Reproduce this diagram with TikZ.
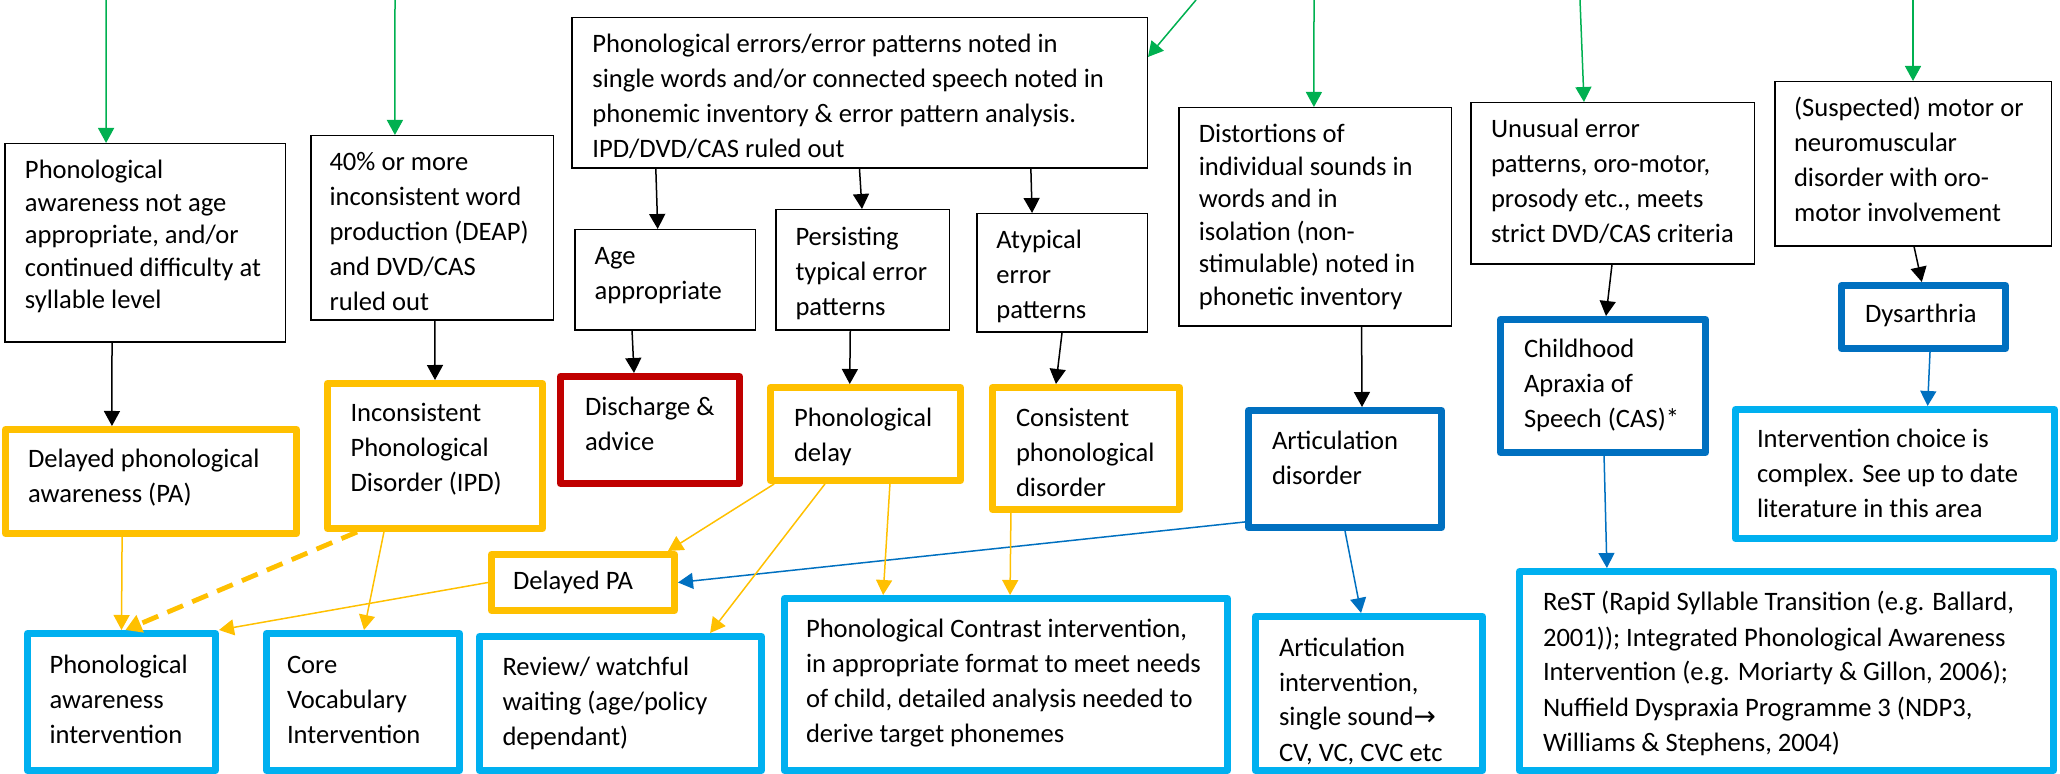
\documentclass[tikz,border=0pt]{standalone}
\usepackage{fontspec}
\setmainfont{Carlito}
\newfontfamily\arrowfont{DejaVu Sans}
\usetikzlibrary{arrows.meta,calc}
\definecolor{grn}{HTML}{00B050}
\definecolor{yel}{HTML}{FFC000}
\definecolor{rdd}{HTML}{C00000}
\definecolor{dblu}{HTML}{0070C0}
\definecolor{cyn}{HTML}{00B0F0}
\newcommand\tightlines{\fontsize{13.3pt}{16.25pt}\selectfont}
\def\lwthinbox{0.75pt}
\def\lwyelbox{3.5pt}
\def\lwredbox{3.5pt}
\def\lwdbluebox{3.5pt}
\def\lwcyanbox{3.5pt}
\tikzset{
  thinbox/.style={draw=black, line width=0.75pt, fill=white},
  yelbox/.style={draw=yel, line width=3.5pt, fill=white, line join=round},
  redbox/.style={draw=rdd, line width=3.5pt, fill=white, line join=round},
  dbluebox/.style={draw=dblu, line width=3.5pt, fill=white, line join=round},
  cyanbox/.style={draw=cyn, line width=3.5pt, fill=white, line join=round},
  tip/.style={-{Triangle[length=7.5pt,width=8pt]}},
  garrow/.style={draw=grn, line width=0.75pt, tip},
  karrow/.style={draw=black, line width=0.75pt, tip},
  barrow/.style={draw=dblu, line width=0.75pt, tip},
  yarrow/.style={draw=yel, line width=0.75pt, tip},
  ydash/.style={draw=yel, line width=2.4pt, dash pattern=on 8.5pt off 5pt, -{Triangle[length=8pt,width=9pt]}},
}
\newcommand\mybox[9]{%
  \edef\lwd{\csname lw#1\endcsname}%
  \pgfmathsetlengthmacro\bw{(#5-#3)*0.5pt-\lwd}%
  \pgfmathsetlengthmacro\bh{(#6-#4)*0.5pt-\lwd}%
  \pgfmathsetlengthmacro\bl{#7*0.5pt-\lwd/2}%
  \pgfmathsetlengthmacro\bt{#8*0.5pt-\lwd/2-12pt}%
  \node[#1, anchor=north west, inner sep=0pt, minimum width=\bw, minimum height=\bh] (#2) at (#3,#4)
   {\begin{minipage}[t][\bh][t]{\bw}\vspace*{\bt}\raggedright\setlength\leftskip{\bl}\noindent\rule{0pt}{12pt}#9\end{minipage}};%
}
\begin{document}
\begin{tikzpicture}[x=0.5pt,y=-0.5pt,font=\fontsize{13.3pt}{17.5pt}\selectfont]
\useasboundingbox (0,0) rectangle (2060,774);
% top row
\mybox{thinbox}{A}{4}{143}{286}{343}{21}{36}{\tightlines Phonological\\awareness not age\\appropriate, and/or\\continued difficulty at\\syllable level}
\mybox{thinbox}{B}{310}{135}{554}{321}{19.5}{36}{40\% or more\\inconsistent word\\production (DEAP)\\and DVD/CAS\\ruled out}
\mybox{thinbox}{C}{571}{17}{1148}{169}{21.4}{36}{Phonological errors/error patterns noted in\\single words and/or connected speech noted in\\phonemic inventory \& error pattern analysis.\\IPD/DVD/CAS ruled out}
\mybox{thinbox}{D}{574}{229}{756}{331}{20.6}{36}{Age\\appropriate}
\mybox{thinbox}{E}{775}{209}{950}{331}{20.5}{37}{Persisting\\typical error\\patterns}
\mybox{thinbox}{F}{976}{213}{1148}{333}{20.4}{36}{Atypical\\error\\patterns}
\mybox{thinbox}{G}{1178}{107}{1452}{327}{20.8}{36}{\tightlines Distortions of\\individual sounds in\\words and in\\isolation (non-\\stimulable) noted in\\phonetic inventory}
\mybox{thinbox}{H}{1470}{102}{1755}{265}{21}{36}{Unusual error\\patterns, oro-motor,\\prosody etc., meets\\strict DVD/CAS criteria}
\mybox{thinbox}{I}{1774}{81}{2052}{247}{20}{36}{(Suspected) motor or\\neuromuscular\\disorder with oro-\\motor involvement}
% middle row
\mybox{dbluebox}{Dys}{1838}{282}{2009}{352}{27}{41}{Dysarthria}
\mybox{dbluebox}{CAS}{1497}{316}{1709}{456}{27}{42}{Childhood\\Apraxia of\\Speech (CAS)*}
\mybox{cyanbox}{IC}{1732}{406}{2058}{542}{25}{42}{Intervention choice is\\complex. See up to date\\literature in this area}
\mybox{yelbox}{DPA}{2}{426}{300}{537}{26}{42}{Delayed phonological\\awareness (PA)}
\mybox{yelbox}{IPD}{324}{380}{546}{532}{26.5}{42}{Inconsistent\\Phonological\\Disorder (IPD)}
\mybox{redbox}{DA}{557}{373}{743}{487}{28}{43}{Discharge \&\\advice}
\mybox{yelbox}{PD}{767}{384}{964}{484}{27}{43}{Phonological\\delay}
\mybox{yelbox}{CPD}{989}{384}{1183}{513}{27}{43}{Consistent\\phonological\\disorder}
\mybox{dbluebox}{AD}{1245}{407}{1445}{531}{27}{43}{Articulation\\disorder}
\mybox{yelbox}{DPA2}{488}{551}{678}{614}{25}{38}{Delayed PA}
% bottom row
\mybox{cyanbox}{ReST}{1516}{568}{2057}{774}{27}{43}{ReST (Rapid Syllable Transition (e.g. Ballard,\\2001)); Integrated Phonological Awareness\\Intervention (e.g. Moriarty \& Gillon, 2006);\\Nuffield Dyspraxia Programme 3 (NDP3,\\Williams \& Stephens, 2004)}
\mybox{cyanbox}{PAI}{24}{630}{219}{774}{25.5}{43}{Phonological\\awareness\\intervention}
\mybox{cyanbox}{CVI}{263}{630}{463}{774}{24}{43}{Core\\Vocabulary\\Intervention}
\mybox{cyanbox}{RW}{476}{633}{765}{774}{26.5}{42}{Review/ watchful\\waiting (age/policy\\dependant)}
\mybox{cyanbox}{PC}{781}{595}{1231}{774}{25}{42}{Phonological Contrast intervention,\\in appropriate format to meet needs\\of child, detailed analysis needed to\\derive target phonemes}
\mybox{cyanbox}{AI}{1252}{613}{1486}{774}{27}{43}{Articulation\\intervention,\\single sound{\arrowfont →}\\CV, VC, CVC etc}
% green entry arrows
\coordinate (g1) at (106,0);
\coordinate (g2) at (395,0);
\coordinate (g3) at (1196,0);
\coordinate (g4) at (1314,0);
\coordinate (g5) at (1580,0);
\coordinate (g6) at (1913,0);
\draw[garrow] (g1) -- ($(A.north west)!0.362!(A.north east)$);
\draw[garrow] (g2) -- ($(B.north west)!0.348!(B.north east)$);
\draw[garrow] (g3) -- ($(C.north east)!0.263!(C.south east)$);
\draw[garrow] (g4) -- ($(G.north west)!0.496!(G.north east)$);
\draw[garrow] (g5) -- ($(H.north west)!0.4!(H.north east)$);
\draw[garrow] (g6) -- ($(I.north west)!0.5!(I.north east)$);
% black arrows
\draw[karrow] ($(C.south west)!0.147!(C.south east)$) -- ($(D.north west)!0.46!(D.north east)$);
\draw[karrow] ($(C.south west)!0.5!(C.south east)$) -- ($(E.north west)!0.497!(E.north east)$);
\draw[karrow] ($(C.south west)!0.797!(C.south east)$) -- ($(F.north west)!0.326!(F.north east)$);
\draw[karrow] ($(A.south west)!0.383!(A.south east)$) -- ($(DPA.north west)!0.369!(DPA.north east)$);
\draw[karrow] ($(B.south west)!0.512!(B.south east)$) -- ($(IPD.north west)!0.5!(IPD.north east)$);
\draw[karrow] ($(D.south west)!0.319!(D.south east)$) -- ($(DA.north west)!0.414!(DA.north east)$);
\draw[karrow] ($(E.south west)!0.43!(E.south east)$) -- ($(PD.north west)!0.42!(PD.north east)$);
\draw[karrow] ($(F.south west)!0.5!(F.south east)$) -- ($(CPD.north west)!0.345!(CPD.north east)$);
\draw[karrow] ($(G.south west)!0.67!(G.south east)$) -- ($(AD.north west)!0.585!(AD.north east)$);
\draw[karrow] ($(H.south west)!0.498!(H.south east)$) -- ($(CAS.north west)!0.514!(CAS.north east)$);
\draw[karrow] ($(I.south west)!0.504!(I.south east)$) -- ($(Dys.north west)!0.49!(Dys.north east)$);
% blue arrows
\draw[barrow] ($(Dys.south west)!0.538!(Dys.south east)$) -- ($(IC.north west)!0.6!(IC.north east)$);
\draw[barrow] ($(CAS.south west)!0.505!(CAS.south east)$) -- ($(ReST.north west)!0.168!(ReST.north east)$);
\draw[barrow] ($(AD.north west)!0.927!(AD.south west)$) -- (DPA2.east);
\draw[barrow] ($(AD.south west)!0.5!(AD.south east)$) -- ($(AI.north west)!0.466!(AI.north east)$);
% yellow arrows
\draw[yarrow] ($(DPA.south west)!0.403!(DPA.south east)$) -- ($(PAI.north west)!0.5!(PAI.north east)$);
\draw[ydash] ($(IPD.south west)!0.149!(IPD.south east)$) -- ($(PAI.north west)!0.52!(PAI.north east)$);
\draw[yarrow] ($(IPD.south west)!0.27!(IPD.south east)$) -- ($(CVI.north west)!0.505!(CVI.north east)$);
\draw[yarrow] (DPA2.west) -- (PAI.north east);
\draw[yarrow] ($(PD.south west)!0.036!(PD.south east)$) -- ($(DPA2.north west)!0.947!(DPA2.north east)$);
\draw[yarrow] ($(PD.south west)!0.294!(PD.south east)$) -- ($(RW.north west)!0.81!(RW.north east)$);
\draw[yarrow] ($(PD.south west)!0.624!(PD.south east)$) -- ($(PC.north west)!0.227!(PC.north east)$);
\draw[yarrow] ($(CPD.south west)!0.113!(CPD.south east)$) -- ($(PC.north west)!0.509!(PC.north east)$);
\end{tikzpicture}
\end{document}
